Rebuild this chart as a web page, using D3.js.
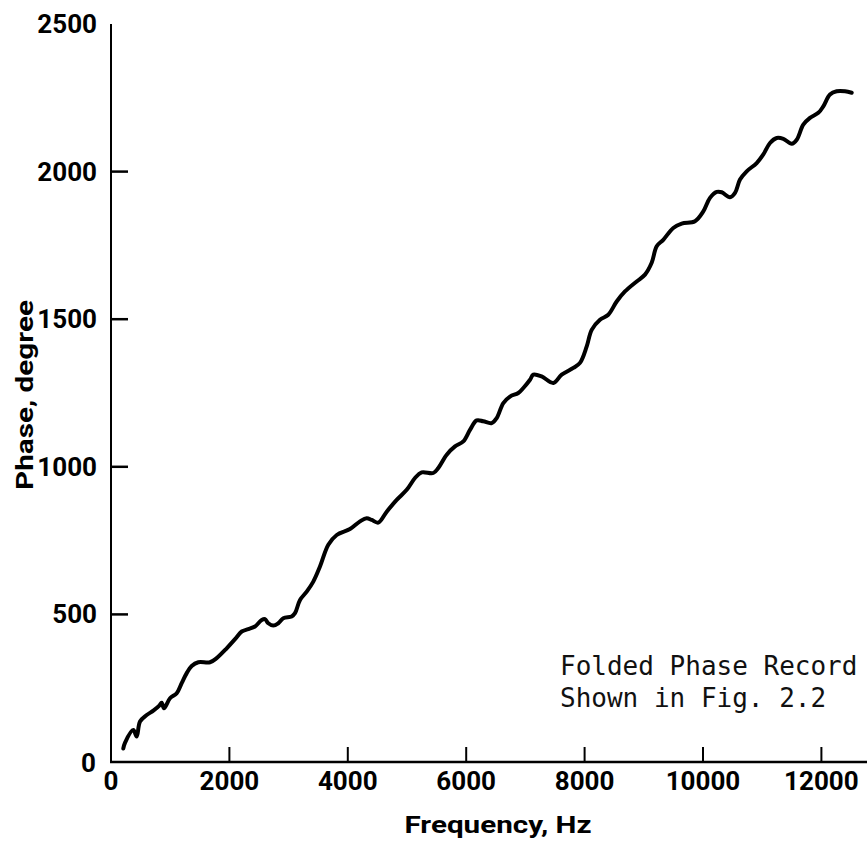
<!DOCTYPE html>
<html>
<head>
<meta charset="utf-8">
<script src="https://cdn.jsdelivr.net/npm/d3@7"></script>
<style>
  html, body { margin: 0; padding: 0; background: #fff; }
  svg { display: block; }
</style>
</head>
<body>
<div id="chart"></div>
<script>
// frequency (Hz) and unwrapped phase (degree)
const freq = [
  208, 236, 377, 434, 490, 603, 715, 816, 856, 895, 997, 1110, 1194, 1279, 1363, 1475,
  1672, 1785, 1954, 2095, 2208, 2319, 2432, 2546, 2601, 2657, 2742, 2826, 2911, 3052,
  3108, 3193, 3306, 3417, 3530, 3671, 3813, 4037, 4206, 4319, 4404, 4515, 4657, 4826,
  4995, 5135, 5248, 5444, 5529, 5671, 5811, 5951, 6064, 6177, 6289, 6431, 6515, 6627,
  6740, 6880, 6965, 7078, 7134, 7275, 7471, 7613, 7809, 7922, 8036, 8120, 8260, 8400,
  8542, 8682, 8880, 9020, 9133, 9218, 9329, 9498, 9640, 9865, 10005, 10118, 10232,
  10316, 10456, 10541, 10625, 10738, 10907, 11019, 11132, 11245, 11357, 11499, 11583,
  11694, 11807, 11948, 12032, 12145, 12258, 12399, 12512
];
const phase = [
  46, 65, 108, 86, 137, 159, 174, 191, 201, 182, 216, 233, 267, 301, 325, 338,
  338, 352, 385, 416, 442, 450, 459, 481, 484, 470, 462, 470, 487, 493,
  504, 549, 577, 611, 662, 736, 769, 789, 815, 826, 820, 811, 848, 888,
  922, 962, 981, 979, 996, 1041, 1069, 1086, 1125, 1157, 1154, 1148, 1165, 1216,
  1238, 1250, 1267, 1295, 1312, 1306, 1284, 1312, 1335, 1352, 1408, 1464, 1498, 1515,
  1560, 1594, 1628, 1651, 1691, 1747, 1769, 1809, 1824, 1832, 1865, 1911, 1931,
  1930, 1913, 1928, 1973, 2001, 2029, 2058, 2097, 2114, 2111, 2094, 2108,
  2159, 2182, 2199, 2221, 2261, 2272, 2272, 2267
];

const xTicks = [0, 2000, 4000, 6000, 8000, 10000, 12000];
const yTicks = [0, 500, 1000, 1500, 2000, 2500];
const xTitle = 'Frequency, Hz';
const yTitle = 'Phase, degree';
const note = ['Folded Phase Record', 'Shown in Fig. 2.2'];

const W = 867, H = 848;
const padLeft = 111, baseY = 762, topY = 24;

const svg = d3.select('#chart').append('svg')
  .attr('width', W)
  .attr('height', H);

const x = d3.scaleLinear().domain([0, 2000]).range([padLeft, padLeft + 118.4]);
const y = d3.scaleLinear().domain([0, 2500]).range([baseY, topY]);

const labelFont = 'Roboto, "DejaVu Sans", sans-serif';

// axis lines
svg.append('line')
  .attr('x1', padLeft).attr('x2', padLeft)
  .attr('y1', y(2500)).attr('y2', baseY + 1)
  .attr('stroke', '#000').attr('stroke-width', 2);

svg.append('line')
  .attr('x1', padLeft - 1).attr('x2', W)
  .attr('y1', baseY).attr('y2', baseY)
  .attr('stroke', '#000').attr('stroke-width', 2.5);

// ticks pointing inward
svg.selectAll('.xtick')
  .data(xTicks.filter(d => d > 0))
  .enter().append('line')
  .attr('x1', d => x(d)).attr('x2', d => x(d))
  .attr('y1', baseY).attr('y2', baseY - 15)
  .attr('stroke', '#000').attr('stroke-width', 2);

svg.selectAll('.ytick')
  .data(yTicks.filter(d => d > 0 && d < 2500))
  .enter().append('line')
  .attr('x1', padLeft).attr('x2', padLeft + 17)
  .attr('y1', d => y(d)).attr('y2', d => y(d))
  .attr('stroke', '#000').attr('stroke-width', 2.5);

// tick labels
svg.selectAll('.xlabel')
  .data(xTicks)
  .enter().append('text')
  .attr('x', d => x(d))
  .attr('y', 790)
  .attr('text-anchor', 'middle')
  .attr('font-family', labelFont)
  .attr('font-weight', 'bold')
  .attr('font-size', 26)
  .text(d => d);

svg.selectAll('.ylabel')
  .data(yTicks)
  .enter().append('text')
  .attr('x', d => d === 0 ? 96 : 97)
  .attr('y', d => d === 0 ? y(d) + 10 : y(d) + 9)
  .attr('text-anchor', 'end')
  .attr('font-family', labelFont)
  .attr('font-weight', 'bold')
  .attr('font-size', 26)
  .text(d => d);

// axis titles
svg.append('text')
  .attr('x', 498)
  .attr('y', 833)
  .attr('text-anchor', 'middle')
  .attr('font-family', labelFont)
  .attr('font-weight', 'bold')
  .attr('font-size', 24)
  .attr('textLength', 187)
  .attr('lengthAdjust', 'spacingAndGlyphs')
  .text(xTitle);

svg.append('text')
  .attr('transform', 'translate(33,395) rotate(-90)')
  .attr('text-anchor', 'middle')
  .attr('font-family', labelFont)
  .attr('font-weight', 'bold')
  .attr('font-size', 23)
  .attr('textLength', 190)
  .attr('lengthAdjust', 'spacingAndGlyphs')
  .text(yTitle);

// phase curve
const pts = freq.map((f, i) => [f, phase[i]]);
const line = d3.line()
  .x(d => x(d[0]))
  .y(d => y(d[1]))
  .curve(d3.curveCatmullRom.alpha(0.5));

svg.append('path')
  .datum(pts)
  .attr('d', line)
  .attr('fill', 'none')
  .attr('stroke', '#000')
  .attr('stroke-width', 4)
  .attr('stroke-linejoin', 'round')
  .attr('stroke-linecap', 'round');

// annotation
svg.selectAll('.note')
  .data(note)
  .enter().append('text')
  .attr('x', 560)
  .attr('y', (d, i) => 675 + i * 32)
  .attr('font-family', '"DejaVu Sans Mono", "Liberation Mono", monospace')
  .attr('font-size', 26)
  .attr('fill', '#111')
  .text(d => d);
</script>
</body>
</html>
